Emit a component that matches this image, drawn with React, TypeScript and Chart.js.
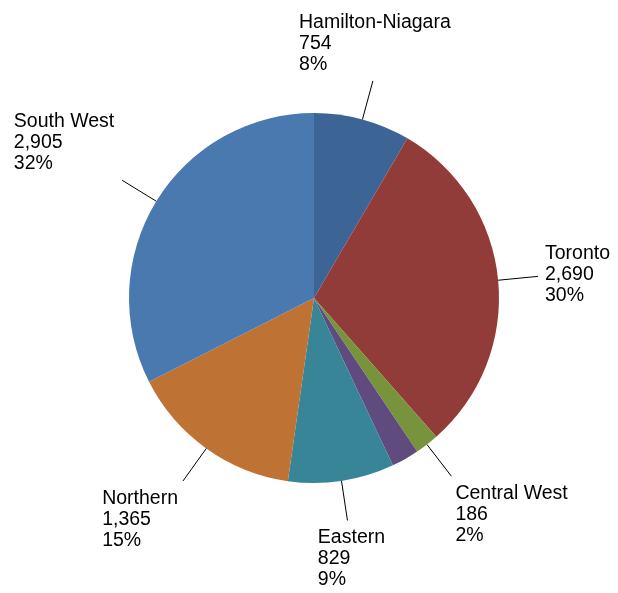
import React, { useEffect, useRef } from "react";
import { Chart, registerables } from "chart.js";

Chart.register(...registerables);

const regions = ["Hamilton-Niagara", "Toronto", "Central West", "Central East", "Eastern", "Northern", "South West"];
const counts = [754, 2690, 186, 215, 829, 1365, 2905];
const percentLabels = ["8%", "30%", "2%", "", "9%", "15%", "32%"];
const showLabel = [true, true, true, false, true, true, true];
const sliceColors = ["#3C6494", "#923C3A", "#77933C", "#5F4B7E", "#378597", "#BE7335", "#4A79B0"];

const FONT_SIZE = 19.5;
const LINE_H = 21;

const fmt = (n: number) => n.toLocaleString("en-US");

const labelPlugin = {
  id: "pieLabels",
  afterDatasetsDraw(chart: any) {
    const ctx = chart.ctx;
    const meta = chart.getDatasetMeta(0);
    ctx.save();
    ctx.font = `${FONT_SIZE}px "Liberation Sans", Arial, sans-serif`;
    ctx.fillStyle = "#000";
    ctx.strokeStyle = "#000";
    ctx.lineWidth = 1;
    meta.data.forEach((arc: any, i: number) => {
      if (!showLabel[i]) return;
      const { x, y, startAngle, endAngle, outerRadius } = arc.getProps(
        ["x", "y", "startAngle", "endAngle", "outerRadius"],
        true
      );
      const mid = (startAngle + endAngle) / 2;
      const cx = Math.cos(mid);
      const cy = Math.sin(mid);
      const sx = x + cx * outerRadius;
      const sy = y + cy * outerRadius;
      const ex = x + cx * (outerRadius + 40);
      const ey = y + cy * (outerRadius + 40);
      ctx.beginPath();
      ctx.moveTo(sx, sy);
      ctx.lineTo(ex, ey);
      ctx.stroke();

      const lines = [regions[i], fmt(counts[i]), percentLabels[i]];
      const w = Math.max(...lines.map((l) => ctx.measureText(l).width));
      const s = cx;
      const c = -cy;
      const gap = Math.abs(c) < 0.5 ? 8 : 5;
      let left: number;
      if (s > 0.5) left = ex + gap - 1;
      else if (s < -0.5) left = ex - gap - w - (Math.abs(c) < 0.7 ? 3 : 0);
      else left = ex + (c < 0 ? 4 : 2) - w / 2;
      let firstBase: number;
      if (c > 0.5) firstBase = ey - 11 - 2 * LINE_H;
      else if (c < -0.5) firstBase = ey + 23;
      else firstBase = ey + 3.5 - LINE_H;
      ctx.textAlign = "left";
      ctx.textBaseline = "alphabetic";
      lines.forEach((l, k) => ctx.fillText(l, left, firstBase + k * LINE_H));
    });
    ctx.restore();
  },
};

export default function App() {
  const ref = useRef<HTMLCanvasElement | null>(null);
  useEffect(() => {
    if (!ref.current) return;
    const chart = new Chart(ref.current, {
      type: "pie",
      data: {
        labels: regions,
        datasets: [
          {
            data: counts,
            backgroundColor: sliceColors,
            borderWidth: 0,
          },
        ],
      },
      options: {
        animation: false,
        responsive: false,
        maintainAspectRatio: false,
        layout: { padding: { left: 129, right: 119, top: 113, bottom: 110 } },
        plugins: {
          legend: { display: false },
          tooltip: { enabled: false },
          title: { display: false },
        },
      },
      plugins: [labelPlugin],
    });
    return () => chart.destroy();
  }, []);
  return (
    <div style={{ position: "fixed", left: 0, top: 0, width: 618, height: 593, background: "#fff" }}>
      <canvas ref={ref} width={618} height={593} style={{ width: 618, height: 593, display: "block" }} />
    </div>
  );
}
